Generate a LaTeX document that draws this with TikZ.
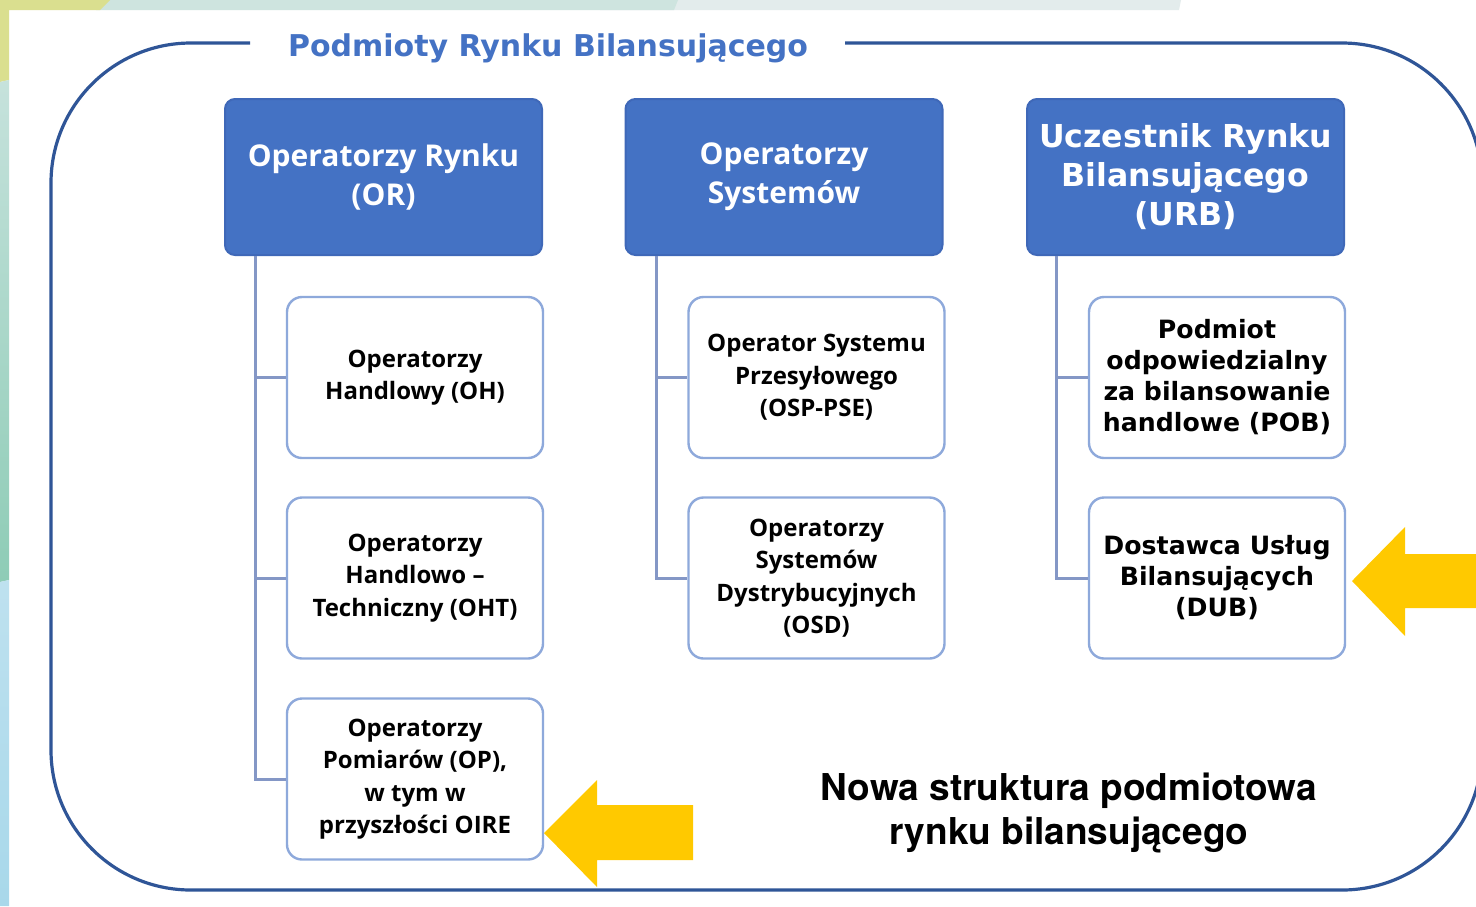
\documentclass[tikz,border=0pt]{standalone}
\usepackage{fontspec}
\setmainfont{DejaVu Sans}
\newfontfamily\osans{Open Sans}
\newfontfamily\heros{TeX Gyre Heros}
\definecolor{hdr}{HTML}{4472C4}
\definecolor{hdrline}{HTML}{3F68B8}
\definecolor{frameblue}{HTML}{2F5597}
\definecolor{childborder}{HTML}{8EA9DB}
\definecolor{connblue}{HTML}{8497C6}
\definecolor{arrowyellow}{HTML}{FFC900}
\definecolor{bgyellow}{HTML}{DADF8F}
\definecolor{bgteal}{HTML}{CEE4DF}
\definecolor{bggray}{HTML}{E3ECEC}
\definecolor{bgtealA}{HTML}{C6E2DC}
\definecolor{bgtealB}{HTML}{8ECCB6}
\definecolor{bgblueA}{HTML}{BEE1EF}
\definecolor{bgblueB}{HTML}{A8D8EA}
\begin{document}
\begin{tikzpicture}[x=0.5pt,y=-0.5pt,
  hdrbox/.style={draw=hdrline, fill=hdr, line width=1pt, rounded corners=5pt,
    minimum width=158.5pt, minimum height=78pt, inner sep=0pt, align=center, text=white},
  childbox/.style={draw=childborder, fill=white, line width=1.2pt, rounded corners=7.5pt,
    minimum width=128pt, minimum height=80.5pt, inner sep=0pt, align=center, text=black},
  fontL/.style={font={\osans\bfseries\fontsize{12}{16.25}\selectfont}},
  fontR/.style={font={\bfseries\fontsize{12.6}{15.5}\selectfont}},
  conn/.style={draw=connblue, line width=1.5pt},
  yarrow/.style={fill=arrowyellow, draw=none}]
\useasboundingbox (0,0) rectangle (1476,906);
\clip (0,0) rectangle (1476,906);
% background strips
\fill[white] (0,0) rectangle (1476,906);
\fill[bggray] (600,0) -- (1181,0) -- (1179,10) -- (600,10) -- cycle;
\fill[bgteal] (100,0) -- (678,0) -- (674,10) -- (96,10) -- cycle;
\fill[bgyellow] (0,0) -- (110,0) -- (100,10) -- (9,10) -- (9,80) -- (0,82) -- cycle;
\shade[top color=bgtealA, bottom color=bgtealB] (0,82) -- (9,80) -- (9,580) -- (0,582) -- cycle;
\shade[top color=bgblueA, bottom color=bgblueB] (0,582) -- (9,580) -- (9,906) -- (0,906) -- cycle;
% frame
\draw[frameblue, line width=1.6pt, rounded corners=70pt]
  (250,43) -- (51,43) -- (51,890) -- (1482,890) -- (1482,43) -- (845,43);
% title
\node[anchor=base, text=hdr, font={\bfseries\fontsize{15}{18}\selectfont}, inner sep=0pt]
  (title) at (548,56) {Podmioty Rynku Bilansującego};
% headers
\node[hdrbox, font={\osans\bfseries\fontsize{15}{19.5}\selectfont}] (OR) at (383.5,177)
  {Operatorzy Rynku\\(OR)};
\node[hdrbox, font={\osans\bfseries\fontsize{15}{19.5}\selectfont}] (OS) at (784,177)
  {Operatorzy\\Systemów};
\node[hdrbox, font={\bfseries\fontsize{15.8}{19.5}\selectfont}] (URB) at (1185.5,177)
  {Uczestnik Rynku\\Bilansującego\\(URB)};
% children
\node[childbox, fontL] (OH) at (415,377.5) {Operatorzy\\Handlowy (OH)};
\node[childbox, fontL] (OHT) at (415,578) {Operatorzy\\Handlowo –\\Techniczny (OHT)};
\node[childbox, fontL] (OP) at (415,779) {Operatorzy\\Pomiarów (OP),\\w tym w\\przyszłości OIRE};
\node[childbox, fontL] (OSP) at (816.5,377.5) {Operator Systemu\\Przesyłowego\\(OSP-PSE)};
\node[childbox, fontL] (OSD) at (816.5,578) {Operatorzy\\Systemów\\Dystrybucyjnych\\(OSD)};
\node[childbox, fontR] (POB) at (1217,377.5) {Podmiot\\odpowiedzialny\\za bilansowanie\\handlowe (POB)};
\node[childbox, fontR] (DUB) at (1217,578) {Dostawca Usług\\Bilansujących\\(DUB)};
% connectors
\draw[conn] ([xshift=15.5pt]OR.south west) |- (OP.west);
\draw[conn] ([xshift=15.5pt]OR.south west) |- (OH.west);
\draw[conn] ([xshift=15.5pt]OR.south west) |- (OHT.west);
\draw[conn] ([xshift=16pt]OS.south west) |- (OSD.west);
\draw[conn] ([xshift=16pt]OS.south west) |- (OSP.west);
\draw[conn] ([xshift=15pt]URB.south west) |- (DUB.west);
\draw[conn] ([xshift=15pt]URB.south west) |- (POB.west);
% yellow arrows
\fill[yarrow] (544,833) -- (597,780) -- (597,805) -- (693,805) -- (693,860) -- (597,860) -- (597,887) -- cycle;
\fill[yarrow] (1352,581) -- (1405,527) -- (1405,554) -- (1480,554) -- (1480,608) -- (1405,608) -- (1405,636) -- cycle;
% bottom caption
\node[align=center, inner sep=0pt, font={\heros\bfseries\fontsize{18.5}{22}\selectfont}]
  (caption) at (1069,813) {Nowa struktura podmiotowa\\rynku bilansującego};
\end{tikzpicture}
\end{document}
